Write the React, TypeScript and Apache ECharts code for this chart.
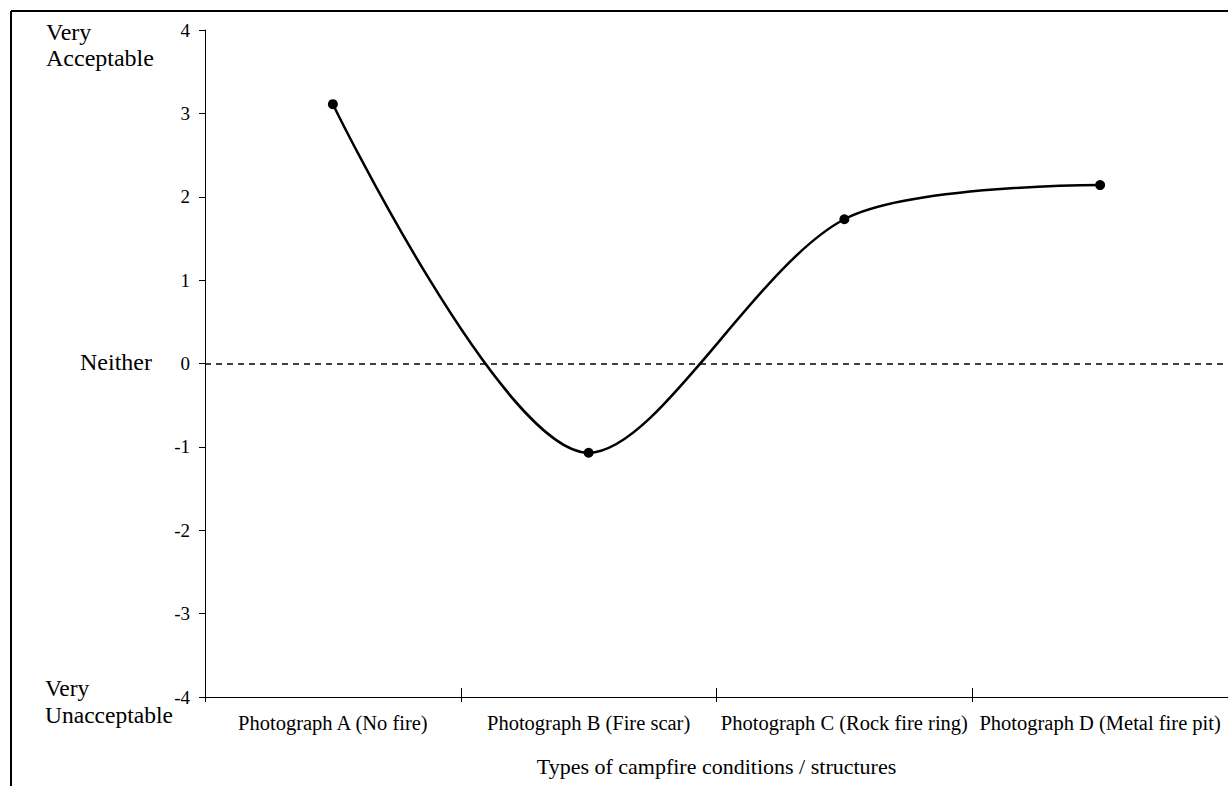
import React, { useEffect, useRef } from "react";
import * as echarts from "echarts";

const categories = [
  "Photograph A (No fire)",
  "Photograph B (Fire scar)",
  "Photograph C (Rock fire ring)",
  "Photograph D (Metal fire pit)",
];
const values = [3.11, -1.07, 1.73, 2.14];
const yTicks = [-4, -3, -2, -1, 0, 1, 2, 3, 4];
const xAxisTitle = "Types of campfire conditions / structures";

const FONT = "'Liberation Serif', 'Times New Roman', serif";

export default function App() {
  const ref = useRef<HTMLDivElement>(null);
  useEffect(() => {
    if (!ref.current) return;
    const chart = echarts.init(ref.current, undefined, { renderer: "svg" });
    chart.setOption({
      animation: false,
      backgroundColor: "#ffffff",
      grid: { left: 205, right: 0, top: 30, bottom: 89, containLabel: false },
      xAxis: [
        {
          type: "category",
          data: categories,
          boundaryGap: true,
          position: "bottom",
          axisLine: { show: true, onZero: false, lineStyle: { color: "#000", width: 1 } },
          axisTick: { show: true, length: 5, inside: false, lineStyle: { color: "#000" } },
          axisLabel: { color: "#000", fontFamily: FONT, fontSize: 20.5, margin: 15, interval: 0 },
          name: xAxisTitle,
          nameLocation: "middle",
          nameGap: 58,
          nameTextStyle: { color: "#000", fontFamily: FONT, fontSize: 22 },
          splitLine: { show: false },
        },
        {
          type: "category",
          data: categories,
          boundaryGap: true,
          position: "bottom",
          offset: 0,
          axisLine: { show: false, onZero: false },
          axisTick: { show: true, length: 9, inside: true, lineStyle: { color: "#000" } },
          axisLabel: { show: false },
          splitLine: { show: false },
        },
      ],
      yAxis: {
        type: "value",
        min: -4,
        max: 4,
        interval: 1,
        axisLine: { show: true, onZero: false, lineStyle: { color: "#000", width: 1 } },
        axisTick: { show: true, length: 6, lineStyle: { color: "#000" } },
        axisLabel: {
          color: "#000",
          fontFamily: FONT,
          fontSize: 19,
          margin: 15,
          formatter: (v: number) => (yTicks.includes(v) ? String(v) : ""),
        },
        splitLine: { show: false },
      },
      series: [
        {
          type: "line",
          xAxisIndex: 0,
          data: values,
          smooth: 0.3,
          symbol: "circle",
          symbolSize: 10,
          itemStyle: { color: "#000" },
          lineStyle: { color: "#000", width: 2.5 },
          markLine: {
            silent: true,
            symbol: ["none", "none"],
            label: { show: false },
            lineStyle: { color: "#000", type: [6, 5], width: 1.5 },
            data: [{ yAxis: 0 }],
          },
        },
      ],
      graphic: [
        { type: "line", shape: { x1: 11, y1: 11, x2: 1228, y2: 11 }, style: { stroke: "#000", lineWidth: 2 } },
        { type: "line", shape: { x1: 11, y1: 11, x2: 11, y2: 786 }, style: { stroke: "#000", lineWidth: 2 } },
        {
          type: "text",
          left: 46,
          top: 19,
          style: { text: "Very\nAcceptable", font: `24px ${FONT}`, fill: "#000", lineHeight: 26 },
        },
        {
          type: "text",
          left: 80,
          top: 350,
          style: { text: "Neither", font: `24px ${FONT}`, fill: "#000" },
        },
        {
          type: "text",
          left: 45,
          top: 674,
          style: { text: "Very\nUnacceptable", font: `23.5px ${FONT}`, fill: "#000", lineHeight: 27 },
        },
      ],
    });
    return () => chart.dispose();
  }, []);
  return (
    <div
      ref={ref}
      style={{ position: "fixed", left: 0, top: 0, width: 1228, height: 786, background: "#fff" }}
    />
  );
}
